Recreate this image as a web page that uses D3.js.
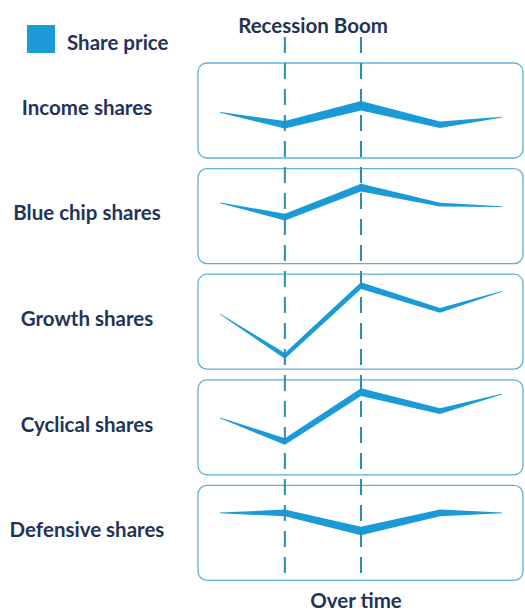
<!DOCTYPE html>
<html>
<head>
<meta charset="utf-8">
<script src="https://cdn.jsdelivr.net/npm/d3@7"></script>
<style>
  body { margin: 0; background: #fff; }
  text { font-family: Lato, 'Open Sans', sans-serif; font-weight: bold; fill: #1f3457; }
</style>
</head>
<body>
<div id="viz"></div>
<script>
// share types, one panel each
var categories = ['Income shares', 'Blue chip shares', 'Growth shares', 'Cyclical shares', 'Defensive shares'];

// time points along the x axis (0 .. 10)
var timePoints = [0, 2.3, 5, 7.8, 10];

// economic events marked with dashed lines
var eventNames = ['Recession', 'Boom'];
var eventTimes = [2.3, 5];

// share price level (0..100 inside each panel)
var incomePrice    = [48, 35, 55, 35, 43];
var blueChipPrice  = [64, 49, 80, 62, 60];
var growthPrice    = [58, 14, 88, 62, 82];
var cyclicalPrice  = [60, 35, 87, 67, 85];
var defensivePrice = [71, 71, 52, 71, 71];

// thickness of the price ribbon (same 0..100 units)
var incomeSpread    = [0.8, 8, 10, 7, 0.8];
var blueChipSpread  = [0.8, 7, 8, 4, 0.8];
var growthSpread    = [0.8, 6, 7, 5, 0.8];
var cyclicalSpread  = [0.8, 7, 8, 6, 0.8];
var defensiveSpread = [0.8, 7, 9, 7, 0.8];

var legendLabel = 'Share price';
var xTitle = 'Over time';

var prices = [incomePrice, blueChipPrice, growthPrice, cyclicalPrice, defensivePrice];
var spreads = [incomeSpread, blueChipSpread, growthSpread, cyclicalSpread, defensiveSpread];

var width = 525, height = 612;
var blue = '#1a9ad7';

var svg = d3.select('#viz').append('svg')
  .attr('width', width)
  .attr('height', height);

// panel layout
var panelLeft = 198, panelRight = 523;
var panelTop = 63, panelStep = 105.6, panelHeight = 95;

var x = d3.scaleLinear().domain([0, 10]).range([220, 502]);
var y = d3.scaleLinear().domain([0, 100]).range([panelHeight, 0]);

// legend
svg.append('rect')
  .attr('x', 27).attr('y', 25)
  .attr('width', 28).attr('height', 28)
  .attr('fill', blue);
svg.append('text')
  .attr('x', 67).attr('y', 45)
  .attr('dominant-baseline', 'middle')
  .style('font-size', '20.5px')
  .text(legendLabel);

// event title above dashed lines
svg.append('text')
  .attr('x', 313)
  .attr('y', 28)
  .attr('text-anchor', 'middle')
  .attr('dominant-baseline', 'middle')
  .style('font-size', '20.5px')
  .text(eventNames.join(' '));

// panels
var panels = svg.selectAll('.panel')
  .data(categories)
  .enter()
  .append('g')
  .attr('class', 'panel')
  .attr('transform', function (d, i) { return 'translate(0,' + (panelTop + i * panelStep) + ')'; });

panels.append('rect')
  .attr('x', panelLeft).attr('y', 0)
  .attr('width', panelRight - panelLeft)
  .attr('height', panelHeight)
  .attr('rx', 9)
  .attr('fill', 'none')
  .attr('stroke', '#5fb0d8')
  .attr('stroke-width', 1.3);

panels.append('text')
  .attr('x', 87)
  .attr('y', panelHeight / 2 - 1)
  .attr('text-anchor', 'middle')
  .attr('dominant-baseline', 'middle')
  .style('font-size', '20.5px')
  .text(function (d) { return d; });

// dashed event lines
svg.selectAll('.eventLine')
  .data(eventTimes)
  .enter()
  .append('line')
  .attr('class', 'eventLine')
  .attr('x1', function (d) { return x(d); })
  .attr('x2', function (d) { return x(d); })
  .attr('y1', 37)
  .attr('y2', 583)
  .attr('stroke', '#2a8dbb')
  .attr('stroke-width', 2)
  .attr('stroke-dasharray', '16,10');

// price ribbons
var area = d3.area()
  .x(function (d) { return x(d.t); })
  .y0(function (d) { return y(d.v - d.s / 2); })
  .y1(function (d) { return y(d.v + d.s / 2); });

panels.append('path')
  .attr('d', function (d, i) {
    var pts = timePoints.map(function (t, j) {
      return { t: t, v: prices[i][j], s: spreads[i][j] };
    });
    return area(pts);
  })
  .attr('fill', blue);

// x title
svg.append('text')
  .attr('x', 356)
  .attr('y', 603)
  .attr('text-anchor', 'middle')
  .attr('dominant-baseline', 'middle')
  .style('font-size', '20.5px')
  .text(xTitle);
</script>
</body>
</html>
